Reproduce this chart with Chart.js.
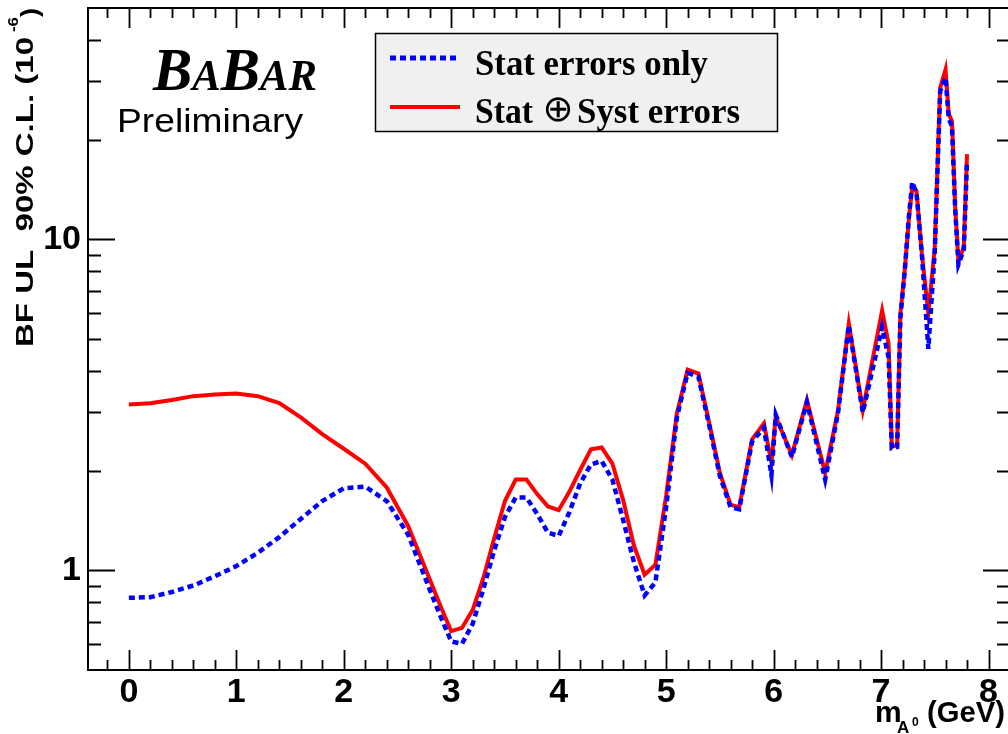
<!DOCTYPE html>
<html>
<head>
<meta charset="utf-8">
<script src="https://cdn.jsdelivr.net/npm/chart.js@4"></script>
<style>
  html, body { margin: 0; padding: 0; background: #fff; overflow: hidden; }
  #wrap { position: relative; width: 1012px; height: 734px; }
</style>
</head>
<body>
<div id="wrap"><canvas id="c"></canvas></div>
<script>
// masse du A0 (GeV)
const massX = [0, 0.2, 0.4, 0.6, 0.8, 1.0, 1.2, 1.4, 1.6, 1.8, 2.0, 2.2, 2.4, 2.6, 2.8,
  2.9, 3.0, 3.1, 3.2, 3.3, 3.4, 3.5, 3.6, 3.7, 3.8, 3.9, 4.0, 4.1, 4.2, 4.3, 4.4, 4.5,
  4.6, 4.7, 4.8, 4.9, 5.0, 5.1, 5.2, 5.3, 5.4, 5.5, 5.6,
  5.68, 5.8, 5.91, 5.98, 6.02, 6.17, 6.31, 6.48, 6.6, 6.7, 6.83, 7.01, 7.07, 7.1, 7.15,
  7.18, 7.22, 7.26, 7.29, 7.33, 7.38, 7.44, 7.5, 7.55, 7.6, 7.63, 7.66, 7.69, 7.72, 7.77, 7.8];

// limite sup. (10^-6), erreurs stat seulement
const statOnly = [0.826, 0.83, 0.86, 0.90, 0.96, 1.03, 1.13, 1.26, 1.43, 1.62, 1.77, 1.79, 1.62, 1.28, 0.875,
  0.727, 0.61, 0.60, 0.69, 0.88, 1.15, 1.45, 1.66, 1.66, 1.48, 1.30, 1.27, 1.50, 1.83, 2.09, 2.14, 1.88,
  1.42, 1.06, 0.84, 0.92, 1.55, 2.90, 3.95, 3.85, 2.75, 1.93, 1.55,
  1.53, 2.45, 2.70, 1.94, 2.95, 2.20, 3.22, 1.88, 3.0, 5.5, 3.0, 5.43, 4.4, 2.34, 2.36,
  5.8, 8.0, 11.8, 14.9, 13.8, 9.0, 4.67, 9.2, 28.0, 30.8, 23.1, 22.0, 12.3, 8.4, 9.3, 17.3];

// limite sup. (10^-6), stat + syst
const statSyst = [3.17, 3.20, 3.27, 3.36, 3.40, 3.42, 3.36, 3.20, 2.90, 2.58, 2.33, 2.10, 1.78, 1.36, 0.94,
  0.78, 0.655, 0.67, 0.76, 0.95, 1.25, 1.62, 1.88, 1.88, 1.70, 1.56, 1.52, 1.73, 2.01, 2.32, 2.35, 2.10,
  1.63, 1.19, 0.97, 1.04, 1.68, 2.98, 4.04, 3.93, 2.80, 1.97, 1.58,
  1.55, 2.49, 2.78, 2.11, 2.91, 2.23, 3.27, 1.97, 3.05, 5.56, 3.05, 6.10, 4.84, 2.36, 2.39,
  5.96, 8.05, 11.65, 14.3, 14.0, 9.03, 5.96, 9.46, 28.7, 32.6, 23.9, 22.8, 12.5, 8.6, 9.46, 18.1];

const xTicks = [0, 1, 2, 3, 4, 5, 6, 7, 8];
const yTicks = [0.5, 0.6, 0.7, 0.8, 0.9, 1, 2, 3, 4, 5, 6, 7, 8, 9, 10, 20, 30, 40, 50];
const yLabels = [1, 10];

const pts = ys => massX.map((x, i) => ({ x: x, y: ys[i] }));

// petit utilitaire : texte étiré à une largeur donnée
function fitText(ctx, txt, font, x, y, w) {
  ctx.save();
  ctx.font = font;
  const m = ctx.measureText(txt).width;
  ctx.translate(x, y);
  if (w) ctx.scale(w / m, 1);
  ctx.fillText(txt, 0, 0);
  ctx.restore();
}

const decor = {
  id: 'decor',
  afterDatasetsDraw(chart) {
    const ctx = chart.ctx;
    const { left, right, top, bottom } = chart.chartArea;
    const xs = chart.scales.x, ys = chart.scales.y;
    ctx.save();
    ctx.strokeStyle = '#000';
    ctx.lineWidth = 2;
    ctx.strokeRect(left, top, right - left, bottom - top);
    ctx.lineWidth = 1.8;
    ctx.beginPath();
    for (let k = -1; k <= 41; k++) {
      const v = k / 5;
      const len = (k % 5 === 0) ? 20 : 10;
      const px = Math.round(xs.getPixelForValue(v)) + 0.5;
      if (px <= left || px >= right) continue;
      ctx.moveTo(px, bottom); ctx.lineTo(px, bottom - len);
      ctx.moveTo(px, top); ctx.lineTo(px, top + len);
    }
    yTicks.forEach(v => {
      const len = yLabels.includes(v) ? 27 : 13;
      const py = Math.round(ys.getPixelForValue(v)) + 0.5;
      if (py <= top + 1 || py >= bottom - 1) return;
      ctx.moveTo(left, py); ctx.lineTo(left + len, py);
      ctx.moveTo(right, py); ctx.lineTo(right - len, py);
    });
    ctx.stroke();
    ctx.restore();
  },
  afterDraw(chart) {
    const ctx = chart.ctx;
    ctx.save();
    ctx.fillStyle = '#000';
    ctx.textBaseline = 'alphabetic';
    ctx.textAlign = 'left';

    // logo BaBar
    const big = 'italic bold 62px "Liberation Serif"';
    const small = 'italic bold 45px "Liberation Serif"';
    const parts = [['B', big], ['A', small], ['B', big], ['AR', small]];
    let tot = 0;
    parts.forEach(p => { ctx.font = p[1]; tot += ctx.measureText(p[0]).width; });
    ctx.save();
    ctx.translate(153, 90);
    ctx.scale(164 / tot, 1);
    let cx = 0;
    parts.forEach(p => { ctx.font = p[1]; ctx.fillText(p[0], cx, 0); cx += ctx.measureText(p[0]).width; });
    ctx.restore();

    fitText(ctx, 'Preliminary', '34px "Liberation Sans"', 117, 132, 186);

    // légende
    ctx.fillStyle = '#f0f0f0';
    ctx.fillRect(375, 33, 403, 99);
    ctx.strokeStyle = '#000';
    ctx.lineWidth = 1.5;
    ctx.strokeRect(375.5, 33.5, 402, 98);
    ctx.lineWidth = 5;
    ctx.strokeStyle = '#0000ff';
    ctx.setLineDash([6, 4]);
    ctx.beginPath(); ctx.moveTo(390, 58); ctx.lineTo(458, 58); ctx.stroke();
    ctx.setLineDash([]);
    ctx.lineWidth = 4;
    ctx.strokeStyle = '#ff0000';
    ctx.beginPath(); ctx.moveTo(390, 107); ctx.lineTo(460, 107); ctx.stroke();
    ctx.fillStyle = '#000';
    fitText(ctx, 'Stat errors only', 'bold 35px "Liberation Serif"', 475, 75, 233);
    fitText(ctx, 'Stat', 'bold 35px "Liberation Serif"', 475, 123, 58);
    ctx.save();
    ctx.font = '37px "DejaVu Sans"';
    ctx.textAlign = 'center';
    ctx.textBaseline = 'middle';
    ctx.fillText('\u2295', 558, 111);
    ctx.restore();
    fitText(ctx, 'Syst errors', 'bold 35px "Liberation Serif"', 577, 123, 163);

    // titre axe X
    ctx.font = 'bold 30px "Liberation Sans"';
    ctx.fillText('m', 875, 722);
    ctx.font = 'bold 17px "Liberation Sans"';
    ctx.fillText('A', 897, 733);
    ctx.font = 'bold 12px "Liberation Sans"';
    ctx.fillText('0', 912, 726);
    fitText(ctx, '(GeV)', 'bold 30px "Liberation Sans"', 927, 722, 78);

    // titre axe Y
    ctx.save();
    ctx.translate(33, 347);
    ctx.rotate(-Math.PI / 2);
    fitText(ctx, 'BF UL  90% C.L. (10', 'bold 23px "Liberation Sans"', 0, 0, 310);
    fitText(ctx, '-6', 'bold 15px "Liberation Sans"', 315, -15, 15);
    fitText(ctx, ')', 'bold 23px "Liberation Sans"', 330, 5, 9);
    ctx.restore();

    ctx.restore();
  }
};

const tickFont = { family: 'Liberation Sans', weight: 'bold', size: 34 };

new Chart(document.getElementById('c'), {
  type: 'line',
  data: {
    datasets: [{
      label: 'Stat errors only',
      data: pts(statOnly),
      borderColor: '#0000ff',
      borderWidth: 4.5,
      borderDash: [6, 4],
      pointRadius: 0,
      fill: false,
      tension: 0
    }, {
      label: 'Stat \u2295 Syst errors',
      data: pts(statSyst),
      borderColor: '#ff0000',
      borderWidth: 4,
      pointRadius: 0,
      fill: false,
      tension: 0
    }]
  },
  options: {
    responsive: true,
    maintainAspectRatio: false,
    animation: false,
    layout: { padding: { top: 8, right: 2, left: 0, bottom: 0 } },
    plugins: { legend: { display: false }, tooltip: { enabled: false } },
    scales: {
      x: {
        type: 'linear',
        min: -0.38,
        max: 8.2,
        afterBuildTicks: s => { s.ticks = xTicks.map(v => ({ value: v })); },
        afterFit: s => { s.height = 64; s.paddingLeft = 0; s.paddingRight = 0; },
        grid: { display: false, drawTicks: false },
        border: { display: false },
        ticks: { font: tickFont, color: '#000', padding: 2, maxRotation: 0, autoSkip: false }
      },
      y: {
        type: 'logarithmic',
        min: 0.5,
        max: 50,
        afterBuildTicks: s => { s.ticks = yTicks.map(v => ({ value: v })); },
        afterFit: s => { s.width = 88; s.paddingTop = 0; s.paddingBottom = 0; },
        grid: { display: false, drawTicks: false },
        border: { display: false },
        ticks: {
          font: tickFont, color: '#000', padding: 7, autoSkip: false,
          callback: v => yLabels.includes(v) ? String(v) : ''
        }
      }
    }
  },
  plugins: [decor]
});
</script>
</body>
</html>
